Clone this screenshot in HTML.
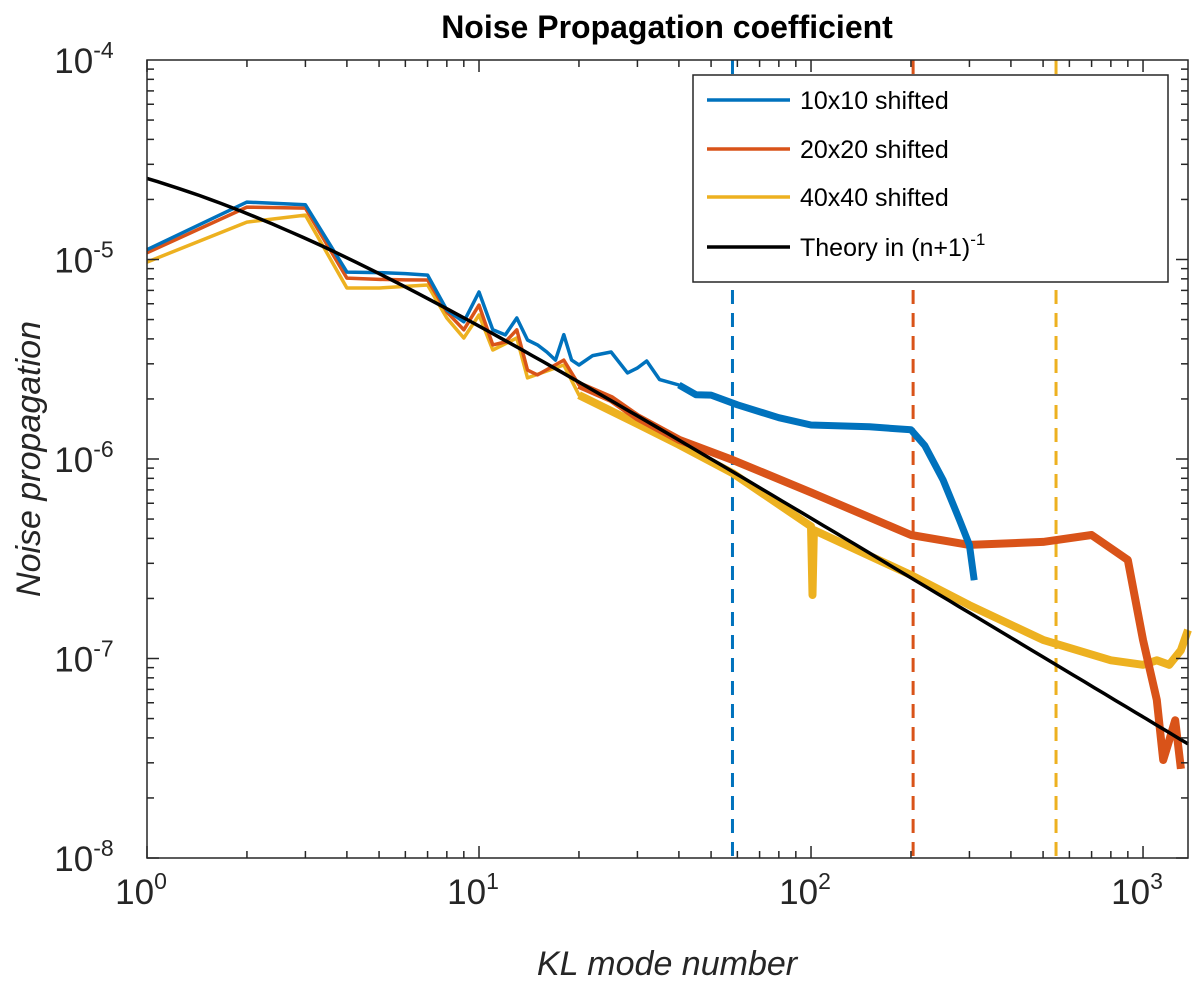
<!DOCTYPE html>
<html><head><meta charset="utf-8"><style>
body{margin:0;background:#fff}
svg{display:block;font-family:"Liberation Sans",Arial,sans-serif}
</style></head><body>
<svg id="chart" width="1200" height="993" viewBox="0 0 1200 993" xmlns="http://www.w3.org/2000/svg">
<text x="667" y="38" text-anchor="middle" font-size="32" font-weight="bold">Noise Propagation coefficient</text>
<text x="667" y="975" text-anchor="middle" font-size="34" font-style="italic" fill="#262626">KL mode number</text>
<text transform="translate(40,459) rotate(-90)" text-anchor="middle" font-size="34" font-style="italic" fill="#262626">Noise propagation</text>
<g id="grid"></g><g id="series"></g><g id="axes"></g>
<g>
<rect x="693" y="75" width="475" height="207" fill="#fff" stroke="#262626" stroke-width="1.5"/>
<line x1="707" y1="100" x2="790" y2="100" stroke="#0072BD" stroke-width="3.5"/>
<text x="800" y="109" font-size="25">10x10 shifted</text>
<line x1="707" y1="149" x2="790" y2="149" stroke="#D95319" stroke-width="3.5"/>
<text x="800" y="158" font-size="25">20x20 shifted</text>
<line x1="707" y1="197" x2="790" y2="197" stroke="#EDB120" stroke-width="3.5"/>
<text x="800" y="206" font-size="25">40x40 shifted</text>
<line x1="707" y1="247" x2="790" y2="247" stroke="#000" stroke-width="3.5"/>
<text x="800" y="256" font-size="25">Theory in (n+1)<tspan font-size="17" dy="-11">-1</tspan></text>
</g>
</svg>
<script>
const n10 = [1,2,3,4,5,6,7,8,9,10,11,12,13,14,15,16,17,18,19,20,22,25,28,30,32,35,40,45,50,60,80,100,150,200,220,250,280,300,310];
const v10 = [1.12e-5,1.94e-5,1.88e-5,8.65e-6,8.6e-6,8.5e-6,8.35e-6,5.58e-6,4.87e-6,6.87e-6,4.44e-6,4.19e-6,5.09e-6,3.95e-6,3.73e-6,3.44e-6,3.13e-6,4.2e-6,3.13e-6,2.96e-6,3.3e-6,3.44e-6,2.7e-6,2.86e-6,3.1e-6,2.5e-6,2.35e-6,2.1e-6,2.09e-6,1.87e-6,1.61e-6,1.48e-6,1.45e-6,1.40e-6,1.17e-6,7.85e-7,4.95e-7,3.71e-7,2.47e-7];
const n20 = [1,2,3,4,5,6,7,8,9,10,11,12,13,14,15,18,20,25,30,40,58,100,200,300,500,700,900,1000,1100,1150,1200,1250,1300];
const v20 = [1.08e-5,1.83e-5,1.81e-5,8.07e-6,7.95e-6,7.9e-6,7.89e-6,5.46e-6,4.44e-6,5.91e-6,3.73e-6,3.86e-6,4.44e-6,2.79e-6,2.64e-6,3.13e-6,2.35e-6,2.0e-6,1.62e-6,1.25e-6,9.9e-7,6.8e-7,4.16e-7,3.71e-7,3.84e-7,4.16e-7,3.12e-7,1.24e-7,6.2e-8,3.1e-8,3.9e-8,4.9e-8,2.8e-8];
const n40 = [1,2,3,4,5,7,8,9,10,11,13,14,18,20,30,40,58,100,101,102,200,300,500,800,1000,1100,1200,1300,1366];
const v40 = [9.7e-6,1.54e-5,1.67e-5,7.2e-6,7.2e-6,7.45e-6,5.09e-6,4.04e-6,5.27e-6,3.52e-6,4.04e-6,2.55e-6,2.96e-6,2.09e-6,1.5e-6,1.18e-6,8.5e-7,4.6e-7,2.08e-7,4.4e-7,2.62e-7,1.85e-7,1.24e-7,9.8e-8,9.3e-8,9.8e-8,9.3e-8,1.1e-7,1.39e-7];
const theoryCoef = [5.1e-5];
const cutoffs = [58, 203, 547];
const bandStart = [40, 20, 20];
const xTicks = [1,10,100,1000];
const xTickLabels = ["0","1","2","3"];
const yTicks = [1e-4,1e-5,1e-6,1e-7,1e-8];
const yTickLabels = ["-4","-5","-6","-7","-8"];

const L=147,R=1188,T=60,B=858, XMIN=1, XMAX=1366, YMIN=1e-8, YMAX=1e-4;
const NS="http://www.w3.org/2000/svg";
function xs(n){return L+(R-L)*Math.log10(n/XMIN)/Math.log10(XMAX/XMIN);}
function ys(v){return B-(B-T)*Math.log10(v/YMIN)/Math.log10(YMAX/YMIN);}
function mk(tag,attrs,parent){const e=document.createElementNS(NS,tag);for(const k in attrs)e.setAttribute(k,attrs[k]);parent.appendChild(e);return e;}
const ser=document.getElementById('series'), ax=document.getElementById('axes');

const colors=["#0072BD","#D95319","#EDB120"];
cutoffs.forEach((c,i)=>{
  const l=mk('line',{x1:xs(c),x2:xs(c),y1:T,y2:B,stroke:colors[i],'stroke-width':3,'stroke-dasharray':'14,9'},ser);
  
  
});
function poly(ns,vs,color,name,w,minN){
  const pts=[];ns.forEach((n,i)=>{if(n>=minN)pts.push(xs(n).toFixed(1)+','+ys(vs[i]).toFixed(1));});
  const p=mk('polyline',{points:pts.join(' '),fill:'none',stroke:color,'stroke-width':w,'stroke-linejoin':'round'},ser);
  
  
}
poly(n40,v40,colors[2],'series-40x40',3.5,0);
poly(n40,v40,colors[2],'series-40x40-noise-band',8,bandStart[2]);
poly(n20,v20,colors[1],'series-20x20',3.5,0);
poly(n20,v20,colors[1],'series-20x20-noise-band',8,bandStart[1]);
poly(n10,v10,colors[0],'series-10x10',3.5,0);
poly(n10,v10,colors[0],'series-10x10-noise-band',7,bandStart[0]);
const tn=[];for(let k=0;k<=100;k++)tn.push(Math.pow(XMAX,k/100));
poly(tn,tn.map(n=>theoryCoef[0]/(n+1)),'#000','series-theory',3.5,0);

const box=mk('rect',{x:L,y:T,width:R-L,height:B-T,fill:'none',stroke:'#262626','stroke-width':1.5},ax);


for(let d=0;d<4;d++)for(let m=1;m<10;m++){const n=Math.pow(10,d)*m;if(n>XMAX)break;const x=xs(n),len=m===1?12:7;
  mk('line',{x1:x,x2:x,y1:B,y2:B-len,stroke:'#262626','stroke-width':1.5},ax);
  mk('line',{x1:x,x2:x,y1:T,y2:T+len,stroke:'#262626','stroke-width':1.5},ax);}
xTicks.forEach((n,i)=>{const t=mk('text',{x:xs(n)-6,y:B+46,'text-anchor':'middle','font-size':35,fill:'#262626'},ax);
  t.innerHTML='10<tspan font-size="23" dy="-15">'+xTickLabels[i]+'</tspan>';
  
  });
for(let d=-8;d<-4;d++)for(let m=1;m<10;m++){const v=Math.pow(10,d)*m;const y=ys(v),len=m===1?12:7;
  mk('line',{x1:L,x2:L+len,y1:y,y2:y,stroke:'#262626','stroke-width':1.5},ax);
  mk('line',{x1:R,x2:R-len,y1:y,y2:y,stroke:'#262626','stroke-width':1.5},ax);}
yTicks.forEach((v,i)=>{const t=mk('text',{x:84,y:ys(v)+13,'text-anchor':'middle','font-size':35,fill:'#262626'},ax);
  t.innerHTML='10<tspan font-size="23" dy="-15">'+yTickLabels[i]+'</tspan>';
  
  });
</script>
</body></html>
